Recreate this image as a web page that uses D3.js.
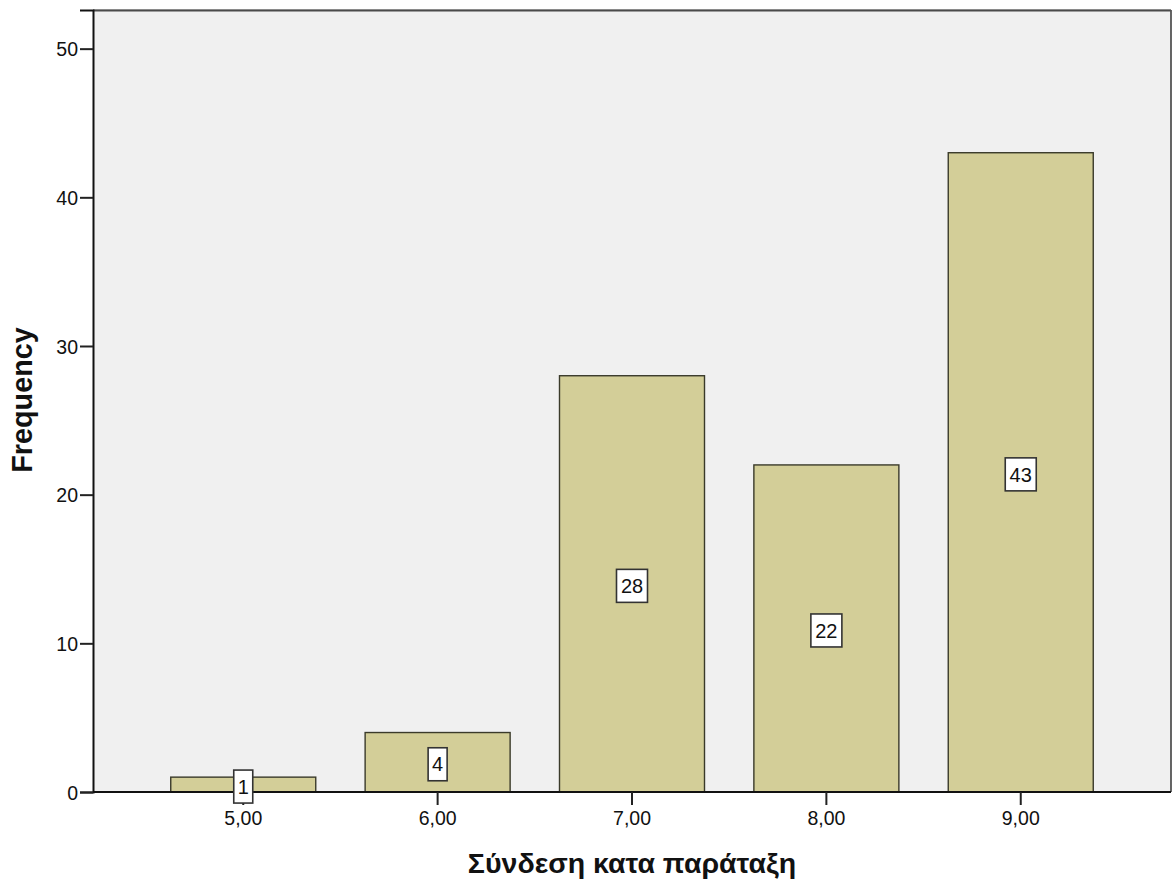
<!DOCTYPE html>
<html>
<head>
<meta charset="utf-8">
<script src="https://cdn.jsdelivr.net/npm/d3@7"></script>
<style>
  html, body { margin: 0; padding: 0; background: #ffffff; }
  svg { display: block; }
</style>
</head>
<body>
<svg id="chart" width="1173" height="889"></svg>
<script>
// Frequency of each score of "Σύνδεση κατα παράταξη"
const categories = ["5,00", "6,00", "7,00", "8,00", "9,00"];
const frequencies = [1, 4, 28, 22, 43];
const yTicks = [0, 10, 20, 30, 40, 50];
const xTitle = "Σύνδεση κατα παράταξη";
const yTitle = "Frequency";

const svg = d3.select("#chart");
const plot = { left: 93, right: 1171, top: 10, bottom: 792 };

const x = d3.scaleBand()
  .domain(categories)
  .range([plot.left, plot.right])
  .paddingInner(0.254)
  .paddingOuter(0.40);

const y = d3.scaleLinear()
  .domain([0, 52.6])
  .range([plot.bottom, plot.top]);

const font = "'Liberation Sans', Arial, sans-serif";

// plot background
svg.append("rect")
  .attr("x", plot.left).attr("y", plot.top)
  .attr("width", plot.right - plot.left)
  .attr("height", plot.bottom - plot.top)
  .attr("fill", "#f0f0f0");

// frame: top and right edges
svg.append("line")
  .attr("x1", plot.left).attr("x2", plot.right)
  .attr("y1", plot.top - 0.5).attr("y2", plot.top - 0.5)
  .attr("stroke", "#8a8a8a").attr("stroke-width", 1);
svg.append("line")
  .attr("x1", plot.left).attr("x2", plot.right)
  .attr("y1", plot.top + 0.8).attr("y2", plot.top + 0.8)
  .attr("stroke", "#4a4a4a").attr("stroke-width", 1.6);
svg.append("line")
  .attr("x1", plot.right).attr("x2", plot.right)
  .attr("y1", plot.top).attr("y2", plot.bottom)
  .attr("stroke", "#555555").attr("stroke-width", 1.8);

// bars
const bars = frequencies.map((v, i) => ({ cat: categories[i], v }));
svg.append("g").selectAll("rect")
  .data(bars)
  .join("rect")
  .attr("x", d => x(d.cat))
  .attr("y", d => y(d.v))
  .attr("width", x.bandwidth())
  .attr("height", d => y(0) - y(d.v))
  .attr("fill", "#d3ce98")
  .attr("stroke", "#3a3a2a")
  .attr("stroke-width", 1.4);

// y axis
const yAxis = d3.axisLeft(y)
  .tickValues(yTicks)
  .tickFormat(d3.format("d"))
  .tickSizeOuter(0)
  .tickSize(13)
  .tickPadding(2);
const gy = svg.append("g")
  .attr("transform", `translate(${plot.left},0)`)
  .call(yAxis);
gy.select(".domain").attr("stroke", "#111").attr("stroke-width", 2);
gy.selectAll(".tick line").attr("stroke", "#222").attr("stroke-width", 2);
gy.selectAll(".tick text")
  .attr("font-family", font).attr("font-size", 19.5).attr("fill", "#111")
  .attr("dy", "0.36em");

// x axis
const xAxis = d3.axisBottom(x)
  .tickSizeOuter(0)
  .tickSize(13)
  .tickPadding(6);
const gx = svg.append("g")
  .attr("transform", `translate(0,${plot.bottom})`)
  .call(xAxis);
gx.select(".domain").attr("stroke", "#111").attr("stroke-width", 2)
  .attr("d", `M${plot.left},0H${plot.right}`);
gx.selectAll(".tick line").attr("stroke", "#222").attr("stroke-width", 2);
gx.selectAll(".tick text")
  .attr("font-family", font).attr("font-size", 19.5).attr("fill", "#111");

// value labels in boxes at the middle of each bar
const labels = svg.append("g").selectAll("g")
  .data(bars)
  .join("g")
  .attr("transform", d => `translate(${x(d.cat) + x.bandwidth() / 2},${y(d.v / 2) + 2})`);
labels.append("rect")
  .attr("x", d => -(String(d.v).length > 1 ? 15.5 : 9.5))
  .attr("y", -16.5)
  .attr("width", d => String(d.v).length > 1 ? 31 : 19)
  .attr("height", 33)
  .attr("fill", "#ffffff")
  .attr("stroke", "#333333")
  .attr("stroke-width", 1.6);
labels.append("text")
  .attr("text-anchor", "middle")
  .attr("dy", "0.36em")
  .attr("font-family", font).attr("font-size", 20).attr("fill", "#111")
  .text(d => d.v);

// axis titles
svg.append("text")
  .attr("x", (plot.left + plot.right) / 2)
  .attr("y", 873)
  .attr("text-anchor", "middle")
  .attr("font-family", font).attr("font-weight", "bold")
  .attr("font-size", 28.5).attr("fill", "#111")
  .text(xTitle);

svg.append("text")
  .attr("transform", `translate(32,400) rotate(-90)`)
  .attr("text-anchor", "middle")
  .attr("font-family", font).attr("font-weight", "bold")
  .attr("font-size", 28.8).attr("fill", "#111")
  .text(yTitle);
</script>
</body>
</html>
